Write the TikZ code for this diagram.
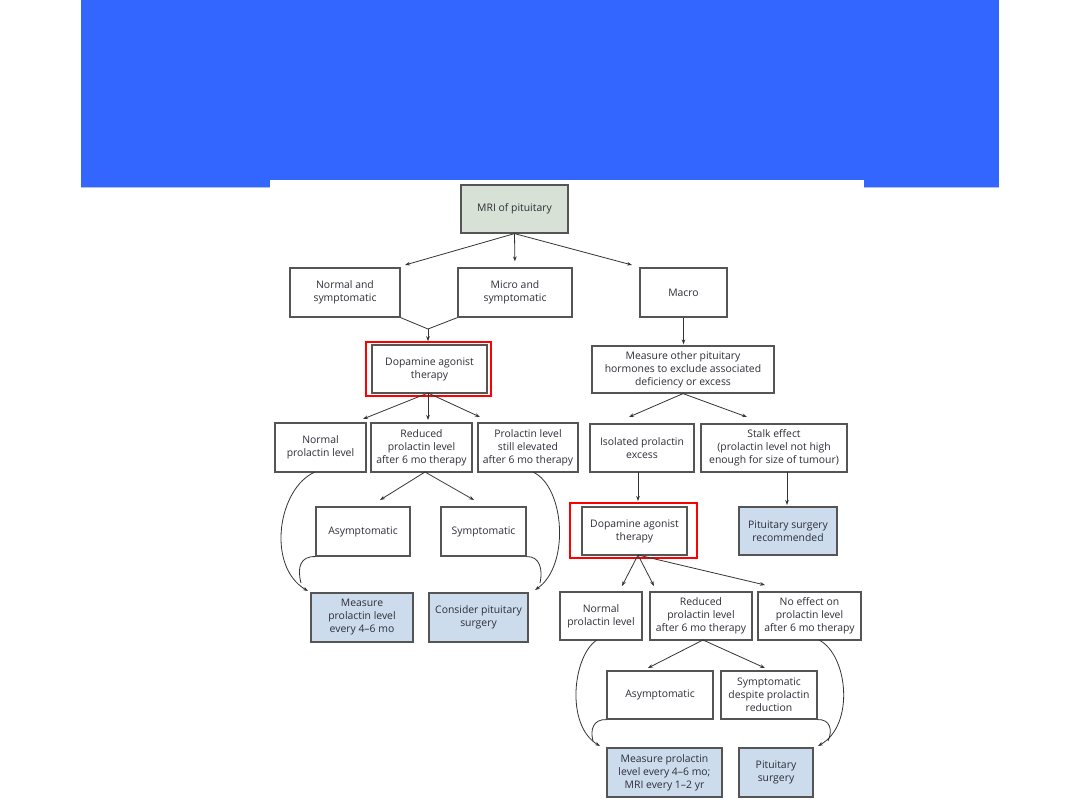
\documentclass[tikz,border=0pt]{standalone}
\usepackage{fontspec}
\setmainfont{Open Sans}
\usetikzlibrary{arrows.meta}
\definecolor{slideblue}{HTML}{3366FF}
\definecolor{edgeline}{HTML}{AFC0EC}
\definecolor{boxgray}{HTML}{555555}
\definecolor{txt}{HTML}{2E2E38}
\definecolor{mrifill}{HTML}{D7E1D6}
\definecolor{outfill}{HTML}{CCDCEC}
\definecolor{conn}{HTML}{333333}
\tikzset{
  box/.style={draw=boxgray, line width=1.2pt, fill=white, text=txt, align=center,
    inner sep=1pt, font=\fontsize{10.4}{13}\selectfont},
  mribox/.style={box, fill=mrifill},
  outbox/.style={box, fill=outfill},
  redframe/.style={draw=red, line width=1.6pt, inner sep=0pt},
  arr/.style={draw=conn, line width=0.8pt, -{Stealth[length=5pt,width=3.6pt]}},
  ln/.style={draw=conn, line width=0.8pt},
}
\newcommand{\bx}[6]{\node[#1, minimum width=#4pt, minimum height=#5pt] (#2) at (#3) {#6};}
\begin{document}
\begin{tikzpicture}[x=1pt,y=-1pt]
\useasboundingbox (0,0) rectangle (1080,810);
\fill[slideblue] (81,0) rectangle (999,187);
\draw[edgeline, line width=1pt] (81,187.5) -- (270,187.5) (864,187.5) -- (999,187.5);
\fill[white] (270,180) rectangle (864,187);

% boxes
\bx{mribox}{mri}{514.5,209}{107}{48}{MRI of pituitary}
\bx{box}{nsym}{345,292.5}{110}{49}{Normal and\\symptomatic}
\bx{box}{msym}{515,292.5}{114}{49}{Micro and\\symptomatic}
\bx{box}{macro}{683.5,292.5}{87}{49}{Macro}
\node[redframe, minimum width=125pt, minimum height=54pt] (rf1) at (428.5,369) {};
\bx{box}{da1}{429.5,369}{115}{48}{Dopamine agonist\\therapy}
\bx{box}{meas}{683,369.5}{182}{47}{Measure other pituitary\\hormones to exclude associated\\deficiency or excess}
\bx{box}{npl1}{320.5,447.5}{91}{49}{Normal\\prolactin level}
\bx{box}{red1}{421.5,447.5}{101}{49}{Reduced\\prolactin level\\after 6 mo therapy}
\bx{box}{elev}{528,447.5}{100}{49}{Prolactin level\\still elevated\\after 6 mo therapy}
\bx{box}{iso}{642,448}{104}{48}{Isolated prolactin\\excess}
\bx{box}{stalk}{774,448}{146}{48}{Stalk effect\\(prolactin level not high\\enough for size of tumour)}
\bx{box}{asym1}{363,531.5}{94}{49}{Asymptomatic}
\bx{box}{sym1}{483.5,531.5}{85}{49}{Symptomatic}
\node[redframe, minimum width=127pt, minimum height=55pt] (rf2) at (633.5,530.5) {};
\bx{box}{da2}{634.5,531}{105}{48}{Dopamine agonist\\therapy}
\bx{outbox}{psr}{788,531}{98}{48}{Pituitary surgery\\recommended}
\bx{outbox}{mpl1}{362,617.5}{102}{49}{Measure\\prolactin level\\every 4--6 mo}
\bx{outbox}{cps}{478.5,617.5}{99}{49}{Consider pituitary\\surgery}
\bx{box}{npl2}{601,616}{82}{48}{Normal\\prolactin level}
\bx{box}{red2}{701,616}{102}{48}{Reduced\\prolactin level\\after 6 mo therapy}
\bx{box}{noeff}{809.5,616}{103}{48}{No effect on\\prolactin level\\after 6 mo therapy}
\bx{box}{asym2}{660,695}{106}{48}{Asymptomatic}
\bx{box}{symd}{769,695}{96}{48}{Symptomatic\\despite prolactin\\reduction}
\bx{outbox}{mpl2}{664.5,772.5}{115}{49}{Measure prolactin\\level every 4--6 mo;\\MRI every 1--2 yr}
\bx{outbox}{ps}{776,772.5}{74}{49}{Pituitary\\surgery}

% free ends and start points
\coordinate (t1) at (405,265);
\coordinate (t2) at (632,265);
\coordinate (m1) at (428,329);
\coordinate (s1) at (428,393);
\coordinate (t3) at (363,419);
\coordinate (t3b) at (428,420);
\coordinate (t4) at (480,417);
\coordinate (t5) at (629,417);
\coordinate (t6) at (747,417);
\coordinate (s2) at (425,472);
\coordinate (t7) at (380,500);
\coordinate (t8) at (474,500);
\coordinate (s3) at (638,472);
\coordinate (t3c) at (638,501);
\coordinate (s4) at (787,472);
\coordinate (t4c) at (787,505);
\coordinate (s5) at (638,555);
\coordinate (t9) at (622,586);
\coordinate (t10) at (654,586);
\coordinate (t11) at (765,585);
\coordinate (s6) at (703,640);
\coordinate (t12) at (648,668);
\coordinate (t13) at (765,668);
\coordinate (c1) at (315,472);
\coordinate (e1) at (308,591);
\coordinate (h1) at (301,583);
\coordinate (c2) at (533,472);
\coordinate (e2) at (535,590);
\coordinate (h2) at (540,583);
\coordinate (c3) at (597,640);
\coordinate (e3) at (600,746);
\coordinate (h3) at (593,741);
\coordinate (c4) at (819,640);
\coordinate (e4) at (818,746);
\coordinate (h4) at (828,741);

% connectors
\draw[arr] (mri.south) -- (t1);
\draw[arr, shorten >=6pt] (mri.south) -- (msym.north);
\draw[arr] (mri.south) -- (t2);
\draw[ln] (nsym.south east) -- (m1) -- (msym.south west);
\draw[arr] (m1) -- (rf1.north -| m1);
\draw[arr, shorten >=1pt] (macro.south) -- (meas.north -| macro.south);

\draw[arr] (s1) -- (t3);
\draw[arr] (s1) -- (t3b);
\draw[arr] (s1) -- (t4);
\draw[arr] (meas.south) -- (t5);
\draw[arr] (meas.south) -- (t6);

\draw[arr] (s2) -- (t7);
\draw[arr] (s2) -- (t8);
\draw[arr] (s3) -- (t3c);
\draw[arr] (s4) -- (t4c);

\draw[arr] (s5) -- (t9);
\draw[arr] (s5) -- (t10);
\draw[arr] (s5) -- (t11);
\draw[arr] (s6) -- (t12);
\draw[arr] (s6) -- (t13);

\draw[arr] (c1) .. controls (278,488) and (266,566) .. (e1);
\draw[ln] (asym1.south west) .. controls (300,556) and (297,568) .. (h1);
\draw[arr] (c2) .. controls (565,487) and (570,566) .. (e2);
\draw[ln] (sym1.south east) .. controls (540,556) and (543,570) .. (h2);
\draw[arr] (c3) .. controls (573,655) and (565,725) .. (e3);
\draw[ln] (asym2.south west) .. controls (593,719) and (590,730) .. (h3);
\draw[arr] (c4) .. controls (848,655) and (855,725) .. (e4);
\draw[ln] (symd.south east) .. controls (830,719) and (833,730) .. (h4);
\end{tikzpicture}
\end{document}
